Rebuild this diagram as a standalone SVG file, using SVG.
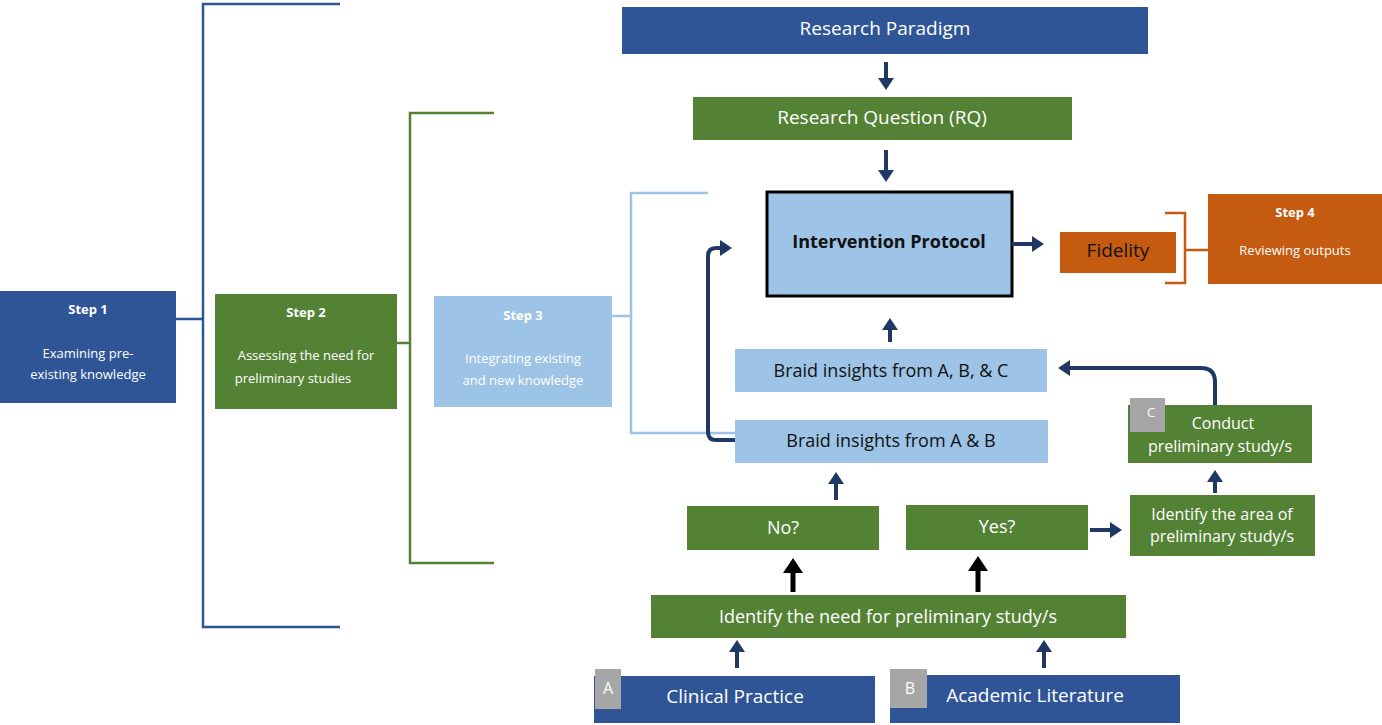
<svg xmlns="http://www.w3.org/2000/svg" width="1382" height="725" viewBox="0 0 1382 725">
<style>
text{font-family:"Open Sans","Liberation Sans",sans-serif;text-anchor:middle;dominant-baseline:middle}
.w{fill:#fff}.b{fill:#111}
.navy{fill:#2f5597}.green{fill:#548235}.lb{fill:#9dc3e6}.or{fill:#c55a11}.gr{fill:#a6a6a6}
.ar{stroke:#1f3864;stroke-width:4;fill:none;marker-end:url(#ah)}
.ak{stroke:#000;stroke-width:5;fill:none;marker-end:url(#ak)}
</style>
<defs>
<marker id="ah" markerWidth="4" markerHeight="4" refX="2" refY="2" orient="auto" markerUnits="strokeWidth"><path d="M0,0L3,2L0,4z" fill="#1f3864"/></marker>
<marker id="ak" markerWidth="4" markerHeight="4" refX="2" refY="2" orient="auto" markerUnits="strokeWidth"><path d="M0,0L3,2L0,4z" fill="#000"/></marker>
</defs>
<rect width="1382" height="725" fill="#fff"/>
<g id="brackets" fill="none" stroke-width="2.5">
<path d="M340,4H203V627H340M176,319H203" stroke="#2f5597"/>
<path d="M494,113H410V563H494M397,343H410" stroke="#548235"/>
<path d="M708,193H631V433H735M612,316H631" stroke="#9dc3e6"/>
<path d="M1165,213H1185V283H1165M1185,250H1208" stroke="#c55a11"/>
</g>
<g id="step1"><rect class="navy" x="0" y="291" width="176" height="112"/><text class="w" x="88" y="311" font-size="13" font-weight="bold">Step 1</text><text class="w" x="88" y="355" font-size="13">Examining pre-</text><text class="w" x="88" y="376" font-size="13">existing knowledge</text></g>
<g id="step2"><rect class="green" x="215" y="294" width="182" height="115"/><text class="w" x="306" y="314" font-size="13" font-weight="bold">Step 2</text><text class="w" x="306" y="357" font-size="13">Assessing the need for</text><text class="w" x="293" y="380" font-size="13">preliminary studies</text></g>
<g id="step3"><rect class="lb" x="434" y="296" width="178" height="111"/><text class="w" x="523" y="317" font-size="13" font-weight="bold">Step 3</text><text class="w" x="523" y="360" font-size="13">Integrating existing</text><text class="w" x="523" y="382" font-size="13">and new knowledge</text></g>
<g id="paradigm"><rect class="navy" x="622" y="7" width="526" height="47"/><text class="w" x="885" y="30" font-size="19">Research Paradigm</text></g>
<g id="rq"><rect class="green" x="693" y="97" width="379" height="43"/><text class="w" x="882" y="119" font-size="19">Research Question (RQ)</text></g>
<g id="protocol"><rect class="lb" x="767" y="192" width="245" height="104" stroke="#000" stroke-width="3"/><text class="b" x="889" y="243" font-size="18" font-weight="bold">Intervention Protocol</text></g>
<g id="fidelity"><rect class="or" x="1060" y="232" width="116" height="41"/><text class="b" x="1118" y="252" font-size="19">Fidelity</text></g>
<g id="step4"><rect class="or" x="1208" y="194" width="174" height="90"/><text class="w" x="1295" y="214" font-size="13" font-weight="bold">Step 4</text><text class="w" x="1295" y="252" font-size="13">Reviewing outputs</text></g>
<g id="braidabc"><rect class="lb" x="735" y="349" width="312" height="43"/><text class="b" x="891" y="372" font-size="18">Braid insights from A, B, &amp; C</text></g>
<g id="braidab"><rect class="lb" x="735" y="420" width="313" height="43"/><text class="b" x="891" y="442" font-size="18">Braid insights from A &amp; B</text></g>
<g id="conduct"><rect class="green" x="1128" y="405" width="184" height="58"/><rect class="gr" x="1130" y="398" width="35" height="34"/><text class="w" x="1151" y="414" font-size="13">C</text><text class="w" x="1223" y="425" font-size="16">Conduct</text><text class="w" x="1220" y="448" font-size="16">preliminary study/s</text></g>
<g id="area"><rect class="green" x="1130" y="495" width="185" height="61"/><text class="w" x="1222" y="516" font-size="16">Identify the area of</text><text class="w" x="1222" y="538" font-size="16">preliminary study/s</text></g>
<g id="no"><rect class="green" x="687" y="506" width="192" height="44"/><text class="w" x="783" y="529" font-size="18">No?</text></g>
<g id="yes"><rect class="green" x="906" y="505" width="182" height="45"/><text class="w" x="997" y="528" font-size="18">Yes?</text></g>
<g id="need"><rect class="green" x="651" y="595" width="475" height="43"/><text class="w" x="888" y="618" font-size="18">Identify the need for preliminary study/s</text></g>
<g id="clinical"><rect class="navy" x="594" y="676" width="281" height="47"/><rect class="gr" x="595" y="669" width="26" height="40" fill="#a6a6a6"/><text class="w" x="608" y="690" font-size="16">A</text><text class="w" x="735" y="698" font-size="19">Clinical Practice</text></g>
<g id="academic"><rect class="navy" x="890" y="675" width="290" height="48"/><rect class="gr" x="890" y="669" width="37" height="39"/><text class="w" x="910" y="690" font-size="16">B</text><text class="w" x="1035" y="697" font-size="19">Academic Literature</text></g>
<g id="connectors">
<path class="ar" d="M886,62V86"/>
<path class="ar" d="M886,150V178"/>
<path class="ar" d="M1012,244H1040"/>
<path class="ar" d="M890,342V322"/>
<path class="ar" d="M735,440H716Q708,440 708,432V256Q708,248 716,248H728"/>
<path class="ar" d="M836,500V476"/>
<path class="ar" d="M737,668V644"/>
<path class="ar" d="M1044,668V644"/>
<path class="ar" d="M1090,530H1118"/>
<path class="ar" d="M1215,493V474"/>
<path class="ar" d="M1215,405V382Q1215,368 1201,368H1062"/>
<path class="ak" d="M793,592V563"/>
<path class="ak" d="M978,592V561"/>
</g>
</svg>
